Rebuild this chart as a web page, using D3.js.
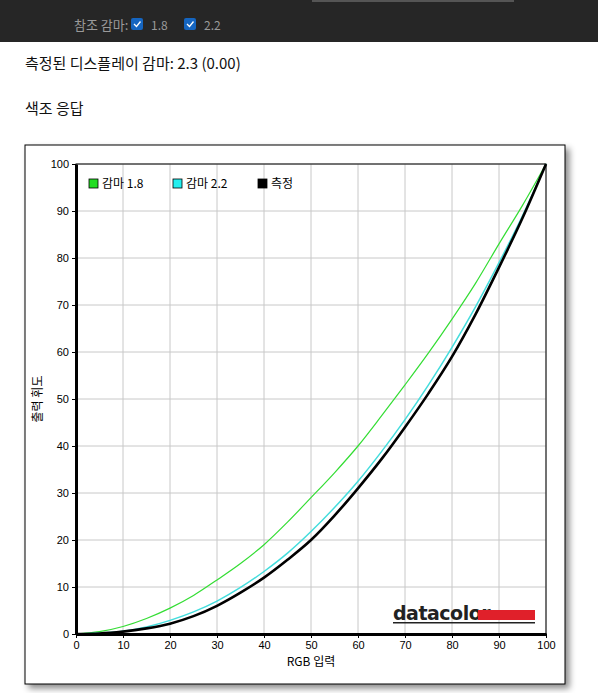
<!DOCTYPE html><html><head><meta charset="utf-8"><script src="https://cdn.jsdelivr.net/npm/d3@7"></script>
<style>body{margin:0;width:598px;height:693px;overflow:hidden;background:#fff;font-family:"Noto Sans CJK KR","Noto Sans",sans-serif}</style></head><body><svg id="c" width="598" height="693"></svg>
<script>
const xs=[0,5,10,15,20,25,30,35,40,45,50,55,60,65,70,75,80,85,90,95,100];
const gamma18=[0,0.5,1.6,3.3,5.5,8.2,11.5,15,19,23.8,29,34.3,40,46.4,53,59.8,67,74.6,83,91.2,100];
const gamma22=[0,0.2,0.6,1.5,2.9,4.7,7,9.9,13.3,17.2,21.8,26.9,32.5,38.8,45.6,53,61,69.6,79,89,100];
const measured=[0,0.1,0.5,1.2,2.2,3.8,6,8.8,12,15.8,20,25.2,31,37.2,44,51.2,59,68,78,88.5,100];
const xTicks=[0,10,20,30,40,50,60,70,80,90,100];
const svg=d3.select("#c");
svg.append("rect").attr("width",598).attr("height",42).attr("fill","#262626");
svg.append("rect").attr("x",312).attr("y",0).attr("width",202).attr("height",2).attr("fill","#555");
svg.append("text").attr("x",74).attr("y",30).attr("fill","#9a9a9a").attr("font-size",13).text("참조 감마:");
[[131,"1.8"],[184,"2.2"]].forEach(([x,t])=>{
 svg.append("rect").attr("x",x).attr("y",18).attr("width",12).attr("height",12).attr("rx",2).attr("fill","#1565c0");
 svg.append("path").attr("d",`M${x+3},${24} l2.5,2.5 l4,-5`).attr("stroke","#fff").attr("fill","none").attr("stroke-width",1.3);
 svg.append("text").attr("x",x+20).attr("y",30).attr("fill","#9a9a9a").attr("font-size",12).text(t);
});
svg.append("text").attr("x",25).attr("y",69).attr("font-size",15).attr("fill","#111").text("측정된 디스플레이 감마: 2.3 (0.00)");
svg.append("text").attr("x",25).attr("y",114).attr("font-size",15).attr("fill","#111").text("색조 응답");
const f=svg.append("defs").append("filter").attr("id","sh").attr("x","-5%").attr("y","-5%").attr("width","115%").attr("height","115%");
f.append("feDropShadow").attr("dx",4).attr("dy",4).attr("stdDeviation",3).attr("flood-color","#000").attr("flood-opacity",0.45);
svg.append("rect").attr("x",25).attr("y",145).attr("width",540).attr("height",539).attr("fill","#fff").attr("stroke","#000").attr("filter","url(#sh)");
const x=d3.scaleLinear().domain([0,100]).range([76,546]);
const y=d3.scaleLinear().domain([0,100]).range([634,164]);
const g=svg.append("g");
xTicks.forEach(t=>{
 g.append("line").attr("x1",x(t)).attr("x2",x(t)).attr("y1",y(0)).attr("y2",y(100)).attr("stroke","#c8c8c8");
 g.append("line").attr("y1",y(t)).attr("y2",y(t)).attr("x1",x(0)).attr("x2",x(100)).attr("stroke","#c8c8c8");
});
g.append("rect").attr("x",x(0)).attr("y",y(100)).attr("width",x(100)-x(0)).attr("height",y(0)-y(100)).attr("fill","none").attr("stroke","#000");
const xa=svg.append("g").attr("transform",`translate(0,${y(0)})`).call(d3.axisBottom(x).tickValues(xTicks).tickSize(4).tickSizeOuter(0));
const ya=svg.append("g").attr("transform",`translate(${x(0)},0)`).call(d3.axisLeft(y).tickValues(xTicks).tickSize(4).tickSizeOuter(0));
[xa,ya].forEach(a=>{a.select(".domain").attr("stroke-width",3);a.selectAll("text").attr("font-size",11).attr("font-family","Liberation Sans,sans-serif").attr("fill","#000");});
const line=d=>d3.line().x((v,i)=>x(xs[i])).y(v=>y(v)).curve(d3.curveMonotoneX)(d);
svg.append("path").attr("d",line(gamma18)).attr("fill","none").attr("stroke","#33dd33").attr("stroke-width",1.2);
svg.append("path").attr("d",line(gamma22)).attr("fill","none").attr("stroke","#44dddd").attr("stroke-width",1.5);
svg.append("path").attr("d",line(measured)).attr("fill","none").attr("stroke","#000").attr("stroke-width",2.6);
[[89,"#22dd22","감마 1.8"],[173,"#22eeee","감마 2.2"],[258,"#000","측정"]].forEach(([lx,c,t])=>{
 svg.append("rect").attr("x",lx).attr("y",179).attr("width",9).attr("height",9).attr("fill",c).attr("stroke","#000").attr("stroke-width",0.8);
 svg.append("text").attr("x",lx+13).attr("y",188).attr("font-size",12).text(t);
});
svg.append("text").attr("x",x(50)).attr("y",666).attr("text-anchor","middle").attr("font-size",12).text("RGB 입력");
svg.append("text").attr("transform",`translate(42,${y(50)}) rotate(-90)`).attr("text-anchor","middle").attr("font-size",12).text("출력 휘도");
svg.append("text").attr("x",393).attr("y",620).attr("font-size",19).attr("font-weight","bold").attr("font-family","DejaVu Sans,sans-serif").attr("fill","#222").attr("letter-spacing",-0.5).text("datacolor");
svg.append("rect").attr("x",478).attr("y",610).attr("width",57).attr("height",10).attr("fill","#e0202a");
svg.append("rect").attr("x",393).attr("y",622).attr("width",142).attr("height",1.5).attr("fill","#222");
</script></body></html>
